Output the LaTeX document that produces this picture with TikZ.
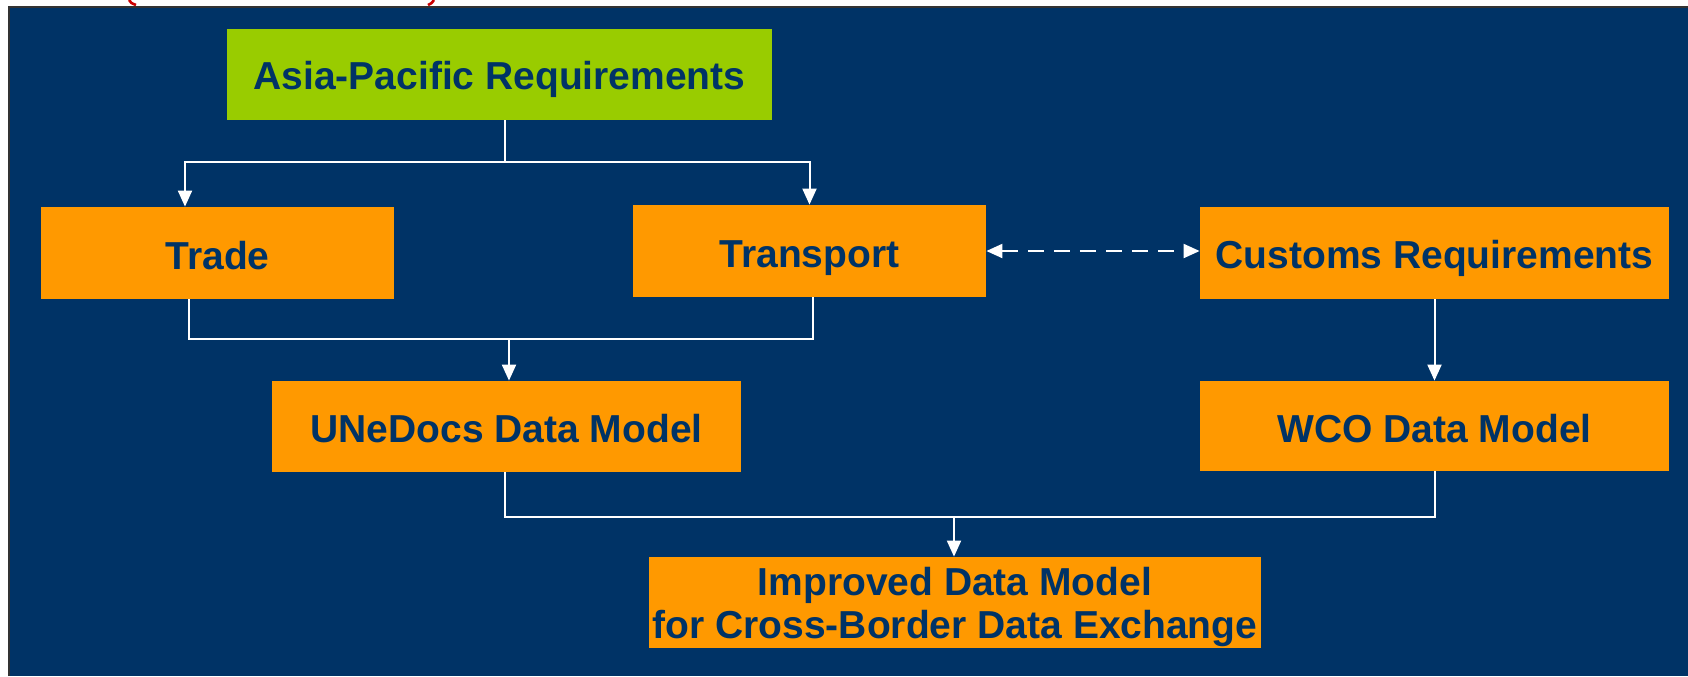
\documentclass[tikz,border=0pt]{standalone}
\usepackage{fontspec}
\setmainfont{Liberation Sans}
\usetikzlibrary{arrows.meta,calc}
\definecolor{navy}{RGB}{0,51,102}
\definecolor{orng}{RGB}{255,153,0}
\definecolor{lime}{RGB}{153,204,0}
\definecolor{redtxt}{RGB}{204,0,0}
\tikzset{
  box/.style={rectangle, fill=orng, inner sep=0pt, text=navy,
    font=\bfseries\fontsize{19.5}{21.5}\selectfont, align=center,
    text height=16pt, text depth=0pt},
  conn/.style={draw=white, line width=1pt},
  arr/.style={conn, -{Triangle[width=7pt,length=8pt]}},
  dbl/.style={conn, dash pattern=on 8pt off 5pt, {Triangle[width=7pt,length=8pt]}-{Triangle[width=7pt,length=8pt]}}
}
\begin{document}
\begin{tikzpicture}[x=0.5pt,y=-0.5pt]
\useasboundingbox (0,0) rectangle (1688,676);
\fill[white] (0,0) rectangle (1688,676);
\fill[navy] (9,7) rectangle (1688,676);
\draw[black!80, line width=1pt] (9,676) -- (9,7) -- (1688,7);
% red fragments of cut-off title
\draw[redtxt, line width=1.3pt] (129,0) .. controls (131,3) .. (136,5);
\draw[redtxt, line width=1.3pt] (434,0) .. controls (432,3) .. (428,5);

\node[box, fill=lime, minimum width=272.5pt, minimum height=45.5pt, text height=15pt] (asia) at (499.5,74.5) {Asia-Pacific Requirements};
\node[box, minimum width=176.5pt, minimum height=46pt] (trade) at (217.5,253) {Trade};
\node[box, minimum width=176.5pt, minimum height=46pt] (transport) at (809.5,251) {Transport};
\node[box, minimum width=234.5pt, minimum height=46pt, text height=15pt] (customs) at (1434.5,253) {Customs Requirements};
\node[box, minimum width=234.5pt, minimum height=45.5pt] (unedocs) at (506.5,426.5) {UNeDocs Data Model};
\node[box, minimum width=234.5pt, minimum height=45pt] (wco) at (1434.5,426) {WCO Data Model};
\node[box, minimum width=306pt, minimum height=45.5pt, text height=35.5pt, text depth=0pt] (improved) at (955,602.5) {Improved Data Model\\for Cross-Border Data Exchange};

\coordinate (j1) at (505,162);
\coordinate (j2) at (509,339);
\coordinate (j3) at (954,517);

\draw[conn] ([xshift=2.75pt]asia.south) -- (j1);
\draw[arr] (j1) -| ([xshift=-16.25pt]trade.north);
\draw[arr] (j1) -| (transport.north);

\draw[conn] ([xshift=-14.25pt]trade.south) |- (j2) -| ([xshift=1.75pt]transport.south);
\draw[arr] (j2) -- (j2 |- unedocs.north);

\draw[dbl] (transport.east) -- (transport.east -| customs.west);
\draw[arr] (customs.south) -- (wco.north);

\draw[conn] ([xshift=-0.75pt]unedocs.south) |- (j3) -| (wco.south);
\draw[arr] (j3) -- (j3 |- improved.north);
\end{tikzpicture}
\end{document}
